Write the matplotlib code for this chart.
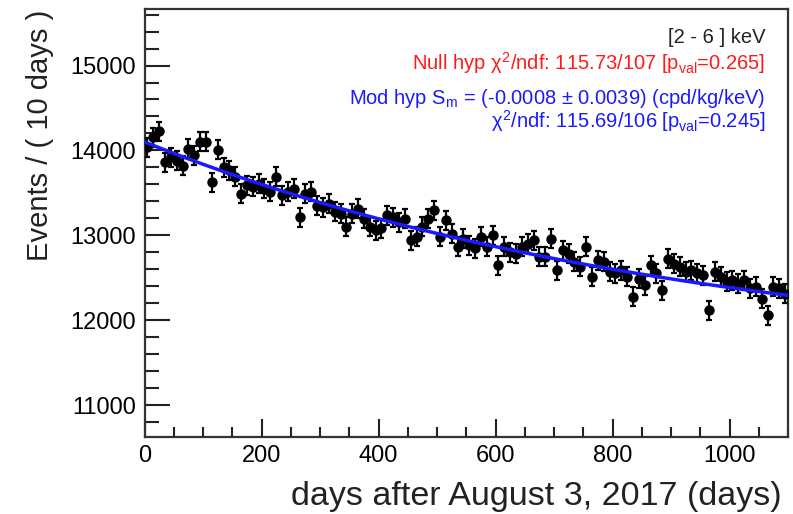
import numpy as np
import matplotlib
matplotlib.use("Agg")
import matplotlib.pyplot as plt
from matplotlib.ticker import MultipleLocator

plt.rcParams['font.family'] = ['Liberation Sans', 'DejaVu Sans']
plt.rcParams['mathtext.fontset'] = 'custom'
plt.rcParams['mathtext.rm'] = 'Liberation Sans'
plt.rcParams['mathtext.it'] = 'Liberation Sans'

# bin centres (days) and counts per 10-day bin
days = [5, 15, 25, 35, 45, 55, 65, 75, 85, 95,
        105, 115, 125, 135, 145, 155, 165, 175, 185, 195,
        205, 215, 225, 235, 245, 255, 265, 275, 285, 295,
        305, 315, 325, 335, 345, 355, 365, 375, 385, 395,
        405, 415, 425, 435, 445, 455, 465, 475, 485, 495,
        505, 515, 525, 535, 545, 555, 565, 575, 585, 595,
        605, 615, 625, 635, 645, 655, 665, 675, 685, 695,
        705, 715, 725, 735, 745, 755, 765, 775, 785, 795,
        805, 815, 825, 835, 845, 855, 865, 875, 885, 895,
        905, 915, 925, 935, 945, 955, 965, 975, 985, 995,
        1005, 1015, 1025, 1035, 1045, 1055, 1065, 1075, 1085, 1095]
events = [14040, 14157, 14225, 13863, 13920, 13880, 13820, 14020, 13940, 14100,
          14100, 13627, 14008, 13800, 13765, 13690, 13490, 13590, 13570, 13610,
          13550, 13510, 13690, 13470, 13510, 13550, 13215, 13490, 13510, 13350,
          13330, 13370, 13275, 13255, 13100, 13255, 13310, 13195, 13100, 13060,
          13080, 13235, 13215, 13155, 13195, 12940, 12980, 13100, 13195, 13295,
          12980, 13175, 13020, 12863, 12960, 12880, 12845, 12980, 12863, 13000,
          12647, 12863, 12800, 12785, 12863, 12900, 12940, 12745, 12745, 12960,
          12590, 12825, 12785, 12686, 12627, 12863, 12510, 12706, 12686, 12569,
          12550, 12590, 12510, 12275, 12490, 12410, 12647, 12550, 12353, 12725,
          12667, 12627, 12569, 12590, 12550, 12530, 12118, 12569, 12510, 12450,
          12470, 12431, 12470, 12373, 12392, 12255, 12060, 12392, 12373, 12314]
event_err = 112

# fitted model: C + B * exp(-t / tau)
fit_C = 11466.0
fit_B = 2634.0
fit_tau = 949.0

x_ticks = [0, 200, 400, 600, 800, 1000]
y_ticks = [11000, 12000, 13000, 14000, 15000]

fig = plt.figure(figsize=(7.93, 5.14), dpi=100)
ax = fig.add_axes([0.1823, 0.1504, 0.9937 - 0.1823, 0.982 - 0.1504])

ax.errorbar(days, events, yerr=event_err, fmt='o', color='black', ms=6.5,
            elinewidth=1.6, capsize=2.5, capthick=1.6, zorder=3)

t = np.linspace(0, 1100, 400)
ax.plot(t, fit_C + fit_B * np.exp(-t / fit_tau), color='#1a1aff', lw=2.5, zorder=4)

ax.set_xlim(0, 1100)
ax.set_ylim(10627, 15663)
ax.set_xticks(x_ticks)
ax.set_yticks(y_ticks)
ax.xaxis.set_minor_locator(MultipleLocator(50))
ax.yaxis.set_minor_locator(MultipleLocator(200))
ax.tick_params(axis='both', which='both', direction='in', top=False, right=False,
               labelsize=17, width=1.5, color='#222222')
ax.tick_params(axis='y', which='major', length=18, pad=6)
ax.tick_params(axis='y', which='minor', length=10)
ax.tick_params(axis='x', which='major', length=13, pad=6)
ax.tick_params(axis='x', which='minor', length=7)
for s in ax.spines.values():
    s.set_linewidth(1.6)
    s.set_color('#333333')

ax.set_xlabel('days after August 3, 2017 (days)', fontsize=24.5, ha='right',
              x=0.99, labelpad=10, color='#222222')
ax.set_ylabel('Events / ( 10 days )', fontsize=21, ha='right', y=1.0,
              labelpad=12, color='#222222')

tx = 0.965
fs = 14.5
ax.text(tx, 0.935, '[2 - 6 ] keV', transform=ax.transAxes, ha='right', va='center',
        fontsize=fs, color='#222222')
ax.text(tx, 0.873, r'Null hyp $\chi^{2}$/ndf: 115.73/107 [p$_{\mathrm{val}}$=0.265]',
        transform=ax.transAxes, ha='right', va='center', fontsize=fs, color='#ff1a1a')
ax.text(tx, 0.791, r'Mod hyp S$_{\mathrm{m}}$ = (-0.0008 $\pm$ 0.0039) (cpd/kg/keV)',
        transform=ax.transAxes, ha='right', va='center', fontsize=fs, color='#1a1aff')
ax.text(tx, 0.739, r'$\chi^{2}$/ndf: 115.69/106 [p$_{\mathrm{val}}$=0.245]',
        transform=ax.transAxes, ha='right', va='center', fontsize=fs, color='#1a1aff')

fig.savefig('out.png', dpi=100)
